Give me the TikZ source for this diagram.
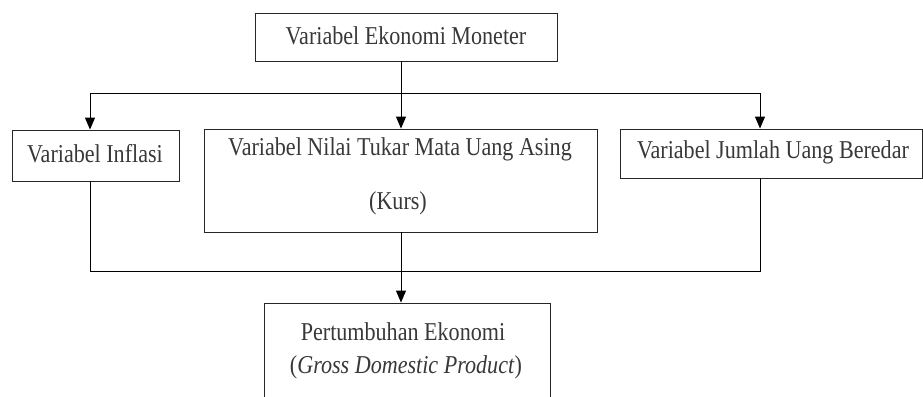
\documentclass[tikz,border=0pt]{standalone}
\usepackage{fontspec}
\setmainfont[FakeStretch=0.86]{Liberation Serif}
\usetikzlibrary{arrows.meta}
\begin{document}
\begin{tikzpicture}[x=1pt,y=-1pt,
  box/.style={draw=black!85,line width=0.9pt},
  lbl/.style={inner sep=0pt,text=black!78,font=\fontsize{25.7}{30}\selectfont},
  conn/.style={draw=black,line width=1pt},
  arr/.style={conn,-{Triangle[length=12pt,width=10pt]}}]
\useasboundingbox (0,0) rectangle (923,396);
\clip (0,0) rectangle (923,396);
% boxes
\node[box,minimum width=302pt,minimum height=48pt,inner sep=0pt] (top) at (406,37) {};
\node[box,minimum width=167pt,minimum height=51pt,inner sep=0pt] (infl) at (95.5,155.5) {};
\node[box,minimum width=393pt,minimum height=103pt,inner sep=0pt] (kurs) at (400.5,180.5) {};
\node[box,minimum width=302.5pt,minimum height=49pt,inner sep=0pt] (jub) at (771.25,153.5) {};
\node[box,minimum width=286pt,minimum height=100pt,inner sep=0pt] (gdp) at (407,353) {};
% texts
\node[lbl] (ttop) at (406,36) {Variabel Ekonomi Moneter};
\node[lbl] (tinfl) at (95,154) {Variabel Inflasi};
\node[lbl] (tkurs1) at (400,149) {Variabel Nilai Tukar Mata Uang Asing};
\node[lbl] (tkurs2) at (398,203) {(Kurs)};
\node[lbl] (tjub) at (773,152) {Variabel Jumlah Uang Beredar};
\node[lbl] (tgdp1) at (403,332) {Pertumbuhan Ekonomi};
\node[lbl] (tgdp2) at (406,367) {(\textit{Gross Domestic Product})};
% connectors
\coordinate (jm) at (401,93);
\coordinate (jl) at (90,93);
\coordinate (jr) at (760,93);
\coordinate (bl) at (90,271);
\coordinate (br) at (760,271);
\draw[conn] (top.south -| jm) -- (jm);
\draw[conn] (jl) -- (jr);
\draw[arr] (jl) -- (jl |- infl.north);
\draw[arr] (jm) -- (jm |- kurs.north);
\draw[arr] (jr) -- (jr |- jub.north);
\draw[conn] (infl.south -| bl) -- (bl) -- (br) -- (jub.south -| br);
\draw[arr] (kurs.south -| jm) -- (jm |- gdp.north);
\end{tikzpicture}
\end{document}
